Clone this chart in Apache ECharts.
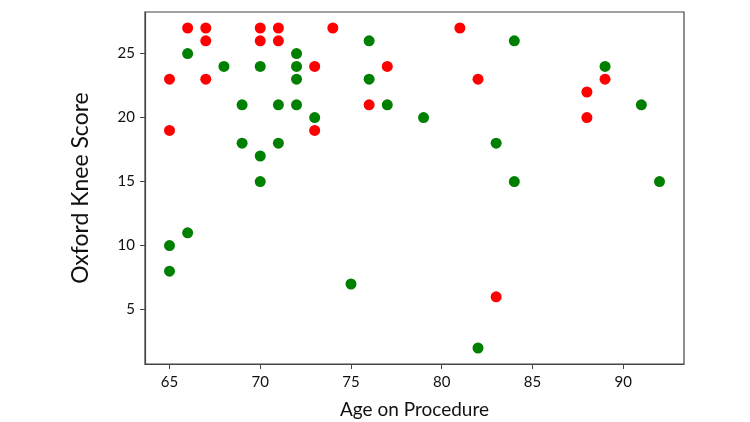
<!DOCTYPE html>
<html>
<head>
<meta charset="utf-8">
<script src="https://cdn.jsdelivr.net/npm/echarts@6/dist/echarts.min.js"></script>
<style>
html,body{margin:0;padding:0;background:#fff;}
#chart{width:750px;height:422px;}
</style>
</head>
<body>
<div id="chart"></div>
<script>
const redAge   = [66,67,67,70,71,70,71,74,73,77,65,67,76,65,73,81,89,82,88,88,83];
const redScore = [27,27,26,27,27,26,26,27,24,24,23,23,21,19,19,27,23,23,22,20,6];
const greenAge   = [76,66,72,68,70,72,72,76,69,71,72,77,73,79,69,71,70,70,84,89,91,83,84,92,66,65,65,75,82];
const greenScore = [26,25,25,24,24,24,23,23,21,21,21,21,20,20,18,18,17,15,26,24,21,18,15,15,11,10,8,7,2];
const xTicks = [65,70,75,80,85,90];
const yTicks = [5,10,15,20,25];
const xTitle = 'Age on Procedure';
const yTitle = 'Oxford Knee Score';

const zip = (a,b) => a.map((v,i)=>[v,b[i]]);
const font = 'Lato, "Open Sans", sans-serif';

const chart = echarts.init(document.getElementById('chart'), null, {renderer:'canvas'});
chart.setOption({
  animation:false,
  backgroundColor:'#fff',
  grid:{left:145,right:66,top:12,bottom:58,show:true,borderColor:'#444',borderWidth:1.2,backgroundColor:'transparent',containLabel:false,outerBoundsMode:'none'},
  xAxis:{
    type:'value', min:63.65, max:93.35,
    name:xTitle, nameLocation:'middle', nameGap:36,
    nameTextStyle:{fontFamily:font,fontSize:19,color:'#111'},
    splitLine:{show:false},
    axisLine:{show:true,onZero:false,lineStyle:{color:'#444',width:1.2}},
    axisTick:{show:true,length:5,customValues:xTicks,lineStyle:{color:'#444'}},
    axisLabel:{customValues:xTicks,fontFamily:font,fontSize:15,color:'#111',margin:11}
  },
  yAxis:{
    type:'value', min:0.75, max:28.25,
    name:yTitle, nameLocation:'middle', nameGap:53,
    nameTextStyle:{fontFamily:font,fontSize:23,color:'#111'},
    splitLine:{show:false},
    axisLine:{show:true,onZero:false,lineStyle:{color:'#444',width:1.2}},
    axisTick:{show:true,length:5,customValues:yTicks,lineStyle:{color:'#444'}},
    axisLabel:{customValues:yTicks,fontFamily:font,fontSize:15,color:'#111',margin:10}
  },
  series:[
    {type:'scatter',data:zip(greenAge,greenScore),symbolSize:11,itemStyle:{color:'#008000',opacity:1}},
    {type:'scatter',data:zip(redAge,redScore),symbolSize:11,itemStyle:{color:'#ff0000',opacity:1}}
  ]
});
</script>
</body>
</html>
